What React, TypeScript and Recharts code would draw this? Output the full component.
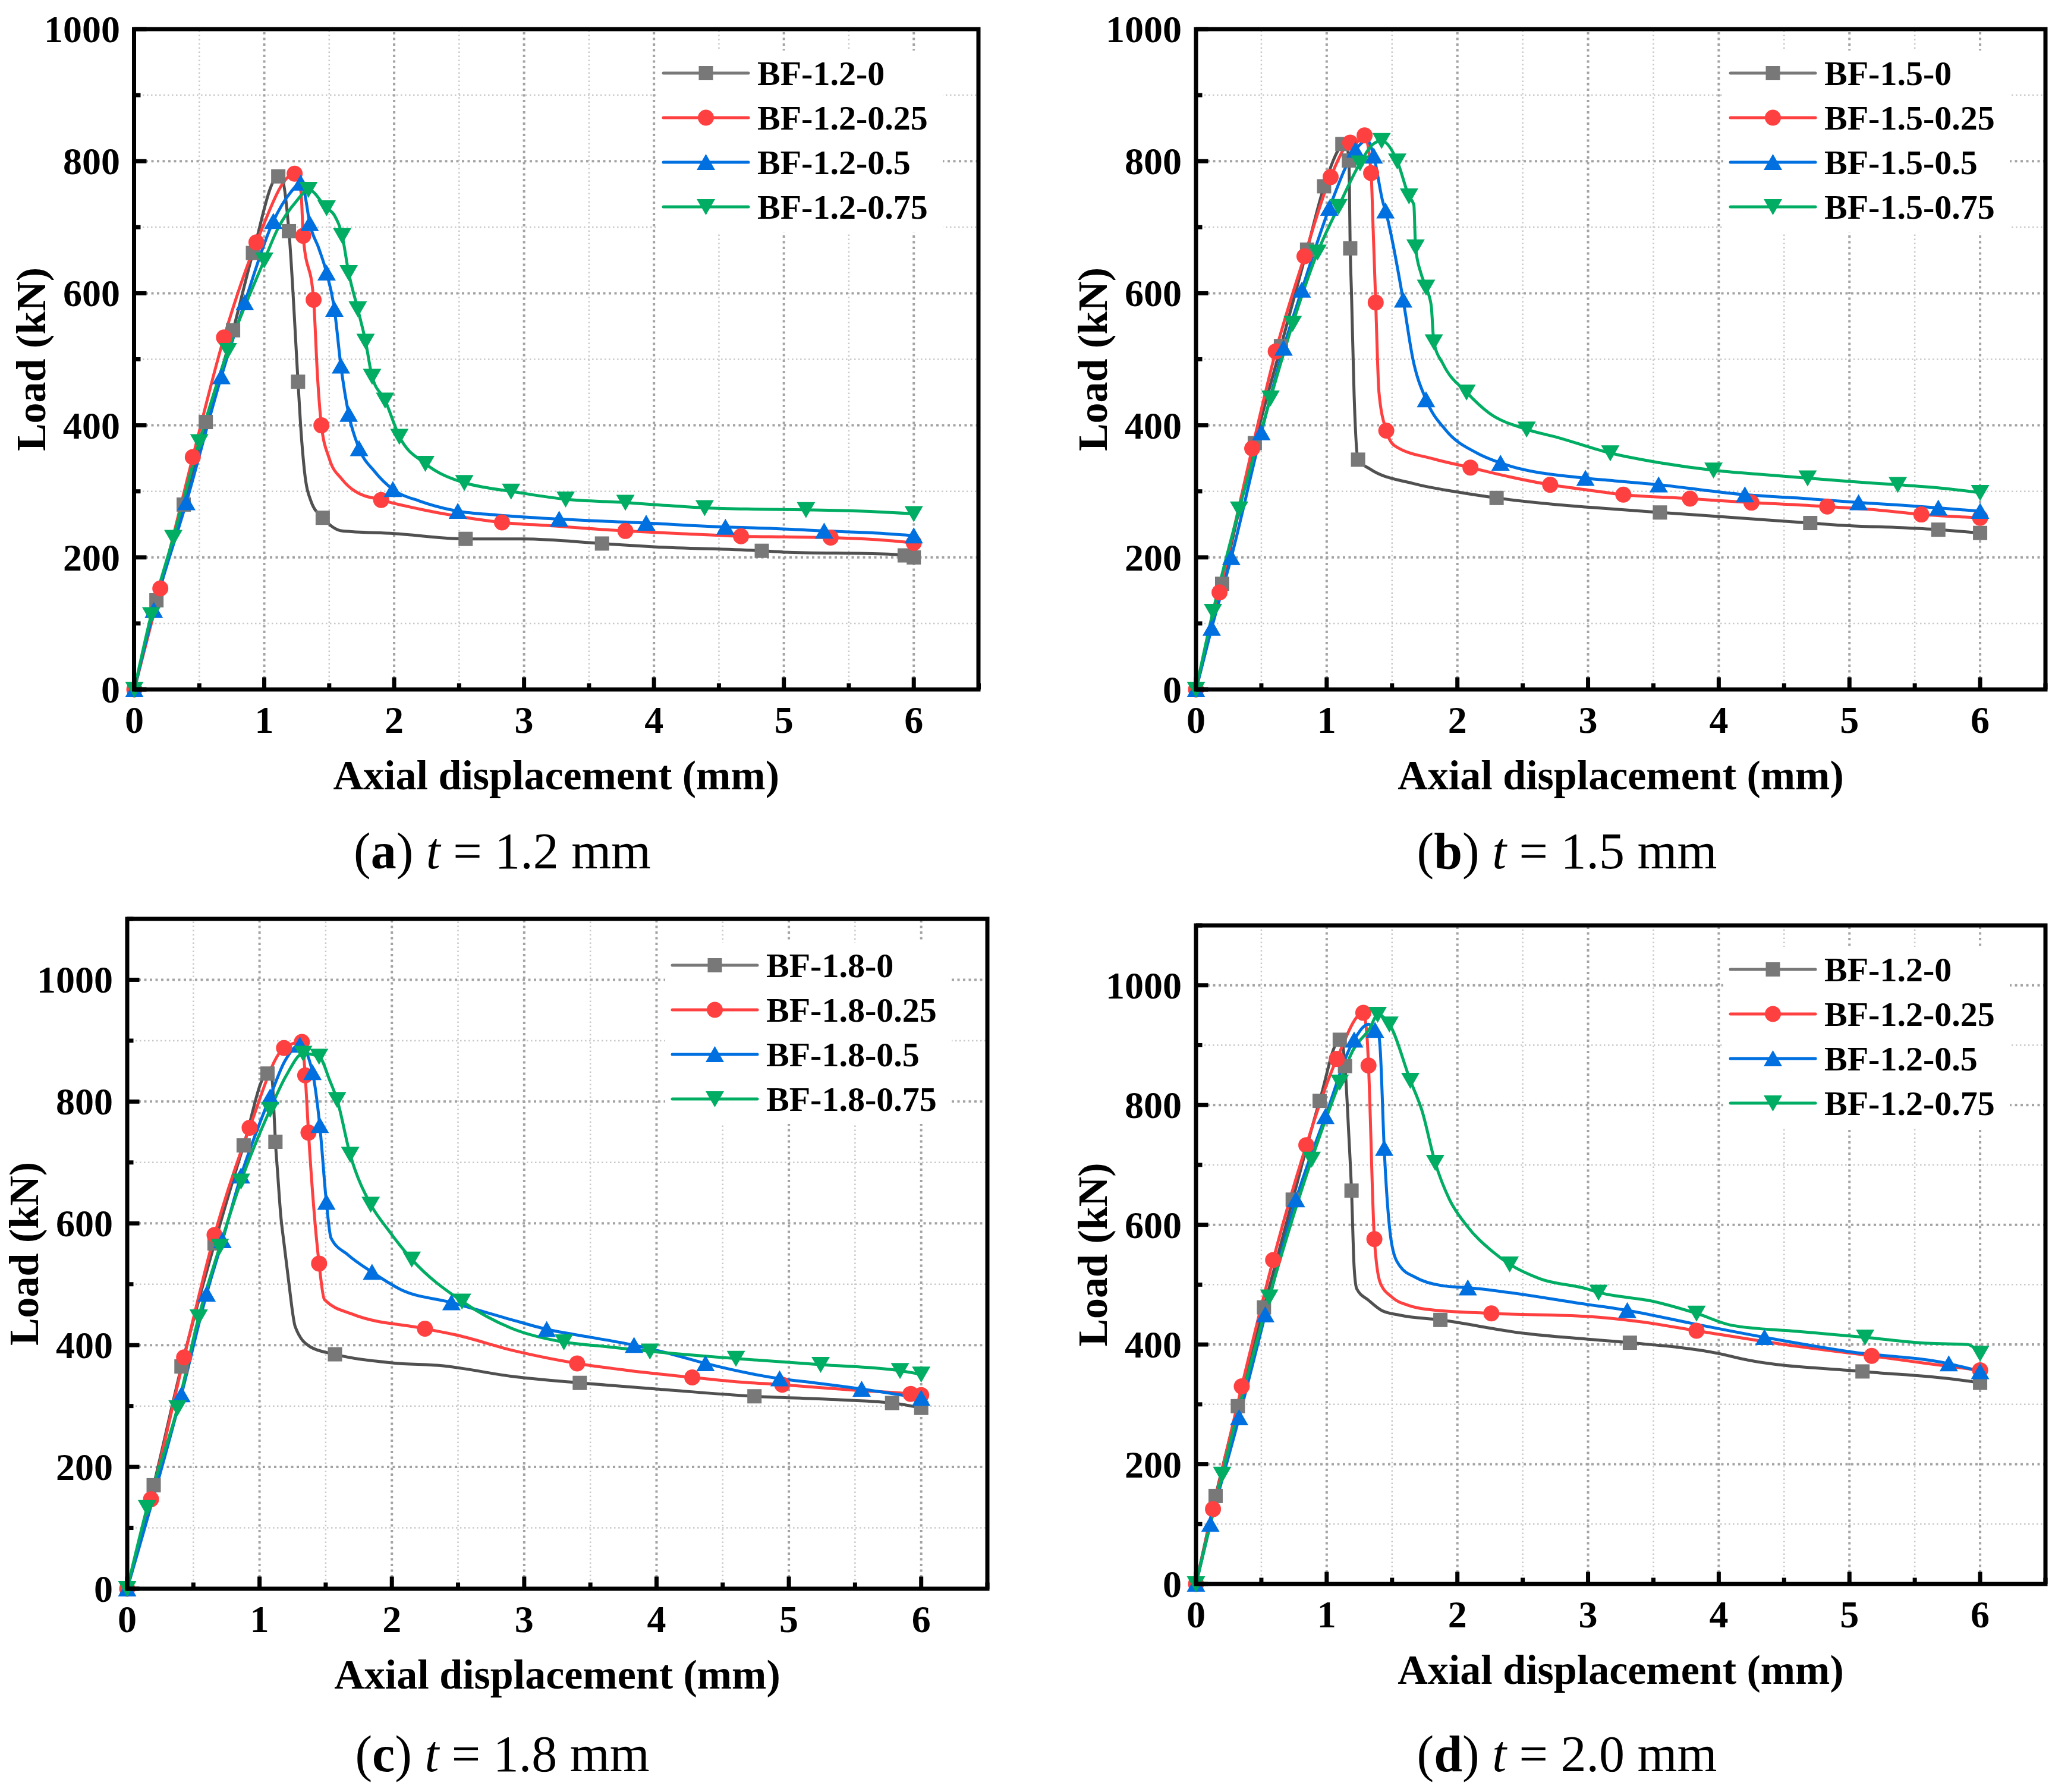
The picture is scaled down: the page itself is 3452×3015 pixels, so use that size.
import React from 'react';
import { LineChart, Line, XAxis, YAxis, ReferenceLine } from 'recharts';

const FONT = "'Liberation Serif', 'Times New Roman', Times, serif";

type P = [number, number];

// ---------- Panel (a) t = 1.2 mm ----------
const A_GRAY_MARKS: P[] = [[0,0],[0.17,135],[0.38,280],[0.55,405],[0.76,544],[0.913,661],[1.108,777],[1.19,694],[1.26,466],[1.45,260],[2.55,228],[3.6,221],[4.83,210],[5.93,203],[6.0,200]];
const A_GRAY_EXTRA: P[] = [[1.14,772],[1.28,400],[1.31,330],[1.36,285],[1.6,240],[2.0,236],[3.0,228],[4.0,216],[5.0,208],[5.8,205]];
const A_RED_MARKS: P[] = [[0,0],[0.2,153],[0.45,352],[0.69,533],[0.94,677],[1.234,781],[1.30,687],[1.38,590],[1.44,400],[1.9,287],[2.83,253],[3.78,240],[4.67,232],[5.36,230],[6.0,222]];
const A_RED_EXTRA: P[] = [[1.283,753],[1.41,474],[1.5,350],[1.6,318],[1.7,300],[2.2,273],[2.5,262],[3.2,248],[4.2,236],[5.0,231],[5.7,227]];
const A_BLUE_MARKS: P[] = [[0,0],[0.15,120],[0.4,283],[0.67,474],[0.85,586],[1.07,709],[1.28,767],[1.35,706],[1.48,631],[1.54,576],[1.59,490],[1.65,417],[1.73,365],[1.99,303],[2.49,270],[3.27,258],[3.94,252],[4.55,246],[5.31,240],[6.0,233]];
const A_BLUE_EXTRA: P[] = [[1.2,752],[1.31,752],[1.42,668],[1.85,330],[2.2,285],[2.8,264],[4.9,244],[5.7,237]];
const A_GREEN_MARKS: P[] = [[0,0],[0.13,113],[0.3,230],[0.5,375],[0.72,513],[1.0,650],[1.34,757],[1.48,729],[1.6,687],[1.65,631],[1.72,576],[1.78,527],[1.83,474],[1.93,438],[2.04,383],[2.24,342],[2.54,313],[2.9,300],[3.32,288],[3.78,283],[4.39,275],[5.17,272],[6.0,266]];
const A_GREEN_EXTRA: P[] = [[1.1,696],[1.25,740],[1.54,718],[2.7,306],[4.0,280],[4.8,273],[5.6,270]];

// ---------- Panel (b) t = 1.5 mm ----------
const B_GRAY_MARKS: P[] = [[0,0],[0.2,160],[0.45,373],[0.65,520],[0.85,666],[0.98,762],[1.12,826],[1.17,801],[1.18,668],[1.24,348],[2.3,290],[3.55,268],[4.7,252],[5.68,242],[6.0,237]];
const B_GRAY_EXTRA: P[] = [[1.145,830],[1.19,598],[1.21,445],[1.33,334],[1.66,312],[2.0,299],[2.76,280],[3.0,276],[4.0,262],[5.0,248],[5.4,245]];
const B_RED_MARKS: P[] = [[0,0],[0.18,147],[0.43,365],[0.61,512],[0.83,656],[1.03,776],[1.18,828],[1.29,839],[1.34,782],[1.375,586],[1.456,392],[2.10,336],[2.71,310],[3.27,295],[3.78,289],[4.25,283],[4.83,277],[5.55,265],[6.0,260]];
const B_RED_EXTRA: P[] = [[1.24,830],[1.355,700],[1.40,450],[1.52,369],[1.82,349],[2.4,322],[3.0,302],[4.0,286],[5.2,272]];
const B_BLUE_MARKS: P[] = [[0,0],[0.12,93],[0.27,200],[0.50,389],[0.67,517],[0.81,605],[1.02,729],[1.22,817],[1.36,808],[1.45,725],[1.585,590],[1.76,439],[2.33,343],[2.98,320],[3.54,310],[4.2,295],[5.07,283],[5.68,275],[6.0,270]];
const B_BLUE_EXTRA: P[] = [[1.31,832],[1.43,738],[1.66,500],[1.91,393],[2.15,358],[3.2,316],[4.6,290],[5.4,279]];
const B_GREEN_MARKS: P[] = [[0,0],[0.13,118],[0.33,273],[0.57,441],[0.74,554],[0.93,662],[1.09,731],[1.255,797],[1.42,831],[1.54,800],[1.63,747],[1.68,670],[1.76,609],[1.82,526],[2.07,450],[2.53,394],[3.17,358],[3.96,332],[4.68,320],[5.37,310],[6.0,298]];
const B_GREEN_EXTRA: P[] = [[1.35,825],[1.667,734],[1.72,631],[1.80,581],[1.89,493],[2.24,419],[2.76,382],[3.5,345],[4.3,326],[5.0,315],[5.7,305]];

// ---------- Panel (c) t = 1.8 mm ----------
const C_GRAY_MARKS: P[] = [[0,0],[0.2,170],[0.41,365],[0.66,567],[0.88,728],[1.06,846],[1.12,734],[1.57,385],[3.42,338],[4.74,316],[5.78,305],[6.0,297]];
const C_GRAY_EXTRA: P[] = [[1.095,835],[1.112,770],[1.136,685],[1.16,614],[1.185,567],[1.22,505],[1.27,430],[1.385,397],[2.0,371],[2.39,366],[2.9,349],[4.0,328],[5.3,311]];
const C_RED_MARKS: P[] = [[0,0],[0.18,147],[0.43,380],[0.66,581],[0.925,757],[1.185,888],[1.32,898],[1.345,843],[1.37,749],[1.45,534],[2.25,427],[3.4,370],[4.27,347],[4.95,335],[5.92,320],[6.0,318]];
const C_RED_EXTRA: P[] = [[1.49,475],[1.70,451],[2.5,416],[2.9,392],[3.8,358],[4.6,340],[5.5,326]];
const C_BLUE_MARKS: P[] = [[0,0],[0.41,319],[0.60,484],[0.72,572],[0.86,678],[1.08,808],[1.305,893],[1.40,848],[1.455,761],[1.505,635],[1.85,520],[2.45,470],[3.17,426],[3.83,400],[4.37,370],[4.93,345],[5.55,328],[6.0,313]];
const C_BLUE_EXTRA: P[] = [[1.19,866],[1.54,576],[1.67,548],[2.07,491],[2.9,442],[3.5,413],[4.1,386],[5.2,338]];
const C_GREEN_MARKS: P[] = [[0,0],[0.15,133],[0.38,297],[0.54,446],[0.70,562],[0.86,669],[1.08,787],[1.33,879],[1.45,874],[1.586,803],[1.685,713],[1.84,631],[2.15,541],[2.53,472],[3.3,405],[3.95,390],[4.6,378],[5.24,368],[5.84,358],[6.0,352]];
const C_GREEN_EXTRA: P[] = [[1.2,842],[1.53,835],[1.97,590],[2.9,428],[3.6,398]];

// ---------- Panel (d) t = 2.0 mm ----------
const D_GRAY_MARKS: P[] = [[0,0],[0.15,147],[0.32,297],[0.52,462],[0.74,642],[0.946,807],[1.10,909],[1.14,865],[1.19,657],[1.87,441],[3.32,403],[5.1,355],[6.0,336]];
const D_GRAY_EXTRA: P[] = [[1.12,903],[1.17,747],[1.21,529],[1.23,493],[1.32,474],[1.42,457],[1.56,449],[2.5,419],[2.99,409],[4.0,385],[4.2,375],[5.8,342]];
const D_RED_MARKS: P[] = [[0,0],[0.13,125],[0.35,330],[0.59,541],[0.844,733],[1.077,877],[1.28,954],[1.32,866],[1.365,576],[2.26,452],[3.83,423],[5.17,381],[6.0,357]];
const D_RED_EXTRA: P[] = [[1.31,910],[1.41,503],[1.50,479],[1.63,465],[1.76,459],[2.99,447],[3.4,438],[4.5,400],[5.6,368]];
const D_BLUE_MARKS: P[] = [[0,0],[0.11,100],[0.33,278],[0.53,450],[0.765,642],[0.99,781],[1.21,909],[1.37,925],[1.44,728],[2.08,495],[3.3,457],[4.35,412],[5.76,368],[6.0,355]];
const D_BLUE_EXTRA: P[] = [[1.32,935],[1.40,915],[1.41,891],[1.50,565],[1.56,531],[1.68,512],[1.89,498],[2.99,467],[3.8,435],[5.0,388]];
const D_GREEN_MARKS: P[] = [[0,0],[0.2,183],[0.56,479],[0.885,709],[1.10,838],[1.39,951],[1.48,935],[1.64,841],[1.83,704],[2.40,534],[3.08,487],[3.83,452],[5.12,412],[6.0,385]];
const D_GREEN_EXTRA: P[] = [[1.2,891],[1.33,928],[1.73,790],[1.94,642],[2.07,599],[2.27,555],[2.63,510],[2.99,493],[3.5,472],[4.1,432],[4.6,422],[5.6,402],[5.9,400]];

// ---------- Axes, legends, captions ----------
const X_TICKS = [0, 0.5, 1, 1.5, 2, 2.5, 3, 3.5, 4, 4.5, 5, 5.5, 6, 6.5];
const X_LABELS = [0, 1, 2, 3, 4, 5, 6];
const X_MAJOR_GRID = [1, 2, 3, 4, 5, 6];
const X_MINOR_GRID = [0.5, 1.5, 2.5, 3.5, 4.5, 5.5];
const Y_TICKS_1000 = [0, 100, 200, 300, 400, 500, 600, 700, 800, 900, 1000];
const Y_TICKS_1100 = [0, 100, 200, 300, 400, 500, 600, 700, 800, 900, 1000, 1100];
const Y_LABELS = [0, 200, 400, 600, 800, 1000];
const Y_MAJOR_GRID = [200, 400, 600, 800, 1000];
const Y_MINOR_GRID = [100, 300, 500, 700, 900];

const LEGEND_A = ['BF-1.2-0', 'BF-1.2-0.25', 'BF-1.2-0.5', 'BF-1.2-0.75'];
const LEGEND_B = ['BF-1.5-0', 'BF-1.5-0.25', 'BF-1.5-0.5', 'BF-1.5-0.75'];
const LEGEND_C = ['BF-1.8-0', 'BF-1.8-0.25', 'BF-1.8-0.5', 'BF-1.8-0.75'];
const LEGEND_D = ['BF-1.2-0', 'BF-1.2-0.25', 'BF-1.2-0.5', 'BF-1.2-0.75'];

const CAPTION_LETTERS = ['a', 'b', 'c', 'd'];
const CAPTION_T = ['1.2', '1.5', '1.8', '2.0'];

const X_TITLE = 'Axial displacement (mm)';
const Y_TITLE = 'Load (kN)';

// ---------- Styles ----------
type Shape = 'square' | 'circle' | 'up' | 'down';
const SERIES_STYLE: { line: string; legendLine: string; fill: string; shape: Shape }[] = [
  { line: '#505050', legendLine: '#787878', fill: '#787878', shape: 'square' },
  { line: '#ff4040', legendLine: '#ff4040', fill: '#ff4040', shape: 'circle' },
  { line: '#0070e0', legendLine: '#0070e0', fill: '#0070e0', shape: 'up' },
  { line: '#00ad63', legendLine: '#00ad63', fill: '#00ad63', shape: 'down' },
];

function Marker({ cx, cy, shape, fill }: { cx: number; cy: number; shape: Shape; fill: string }) {
  if (cx == null || cy == null || isNaN(cx) || isNaN(cy)) return null;
  if (shape === 'square') return <rect x={cx - 12} y={cy - 12} width={24} height={24} fill={fill} />;
  if (shape === 'circle') return <circle cx={cx} cy={cy} r={13.5} fill={fill} />;
  if (shape === 'up')
    return <polygon points={`${cx},${cy - 14} ${cx - 15.5},${cy + 13} ${cx + 15.5},${cy + 13}`} fill={fill} />;
  return <polygon points={`${cx},${cy + 14} ${cx - 15.5},${cy - 13} ${cx + 15.5},${cy - 13}`} fill={fill} />;
}

const toCurve = (marks: P[], extra: P[]) =>
  [...marks, ...extra].sort((a, b) => a[0] - b[0]).map(([x, y]) => ({ x, y }));
const toMarks = (marks: P[]) => marks.map(([x, y]) => ({ x, y }));

type Box = { L: number; T: number; R: number; B: number };
type PanelCfg = {
  series: [P[], P[]][];
  legend: string[];
  letter: string;
  t: string;
  yMax: number;
  yTicks: number[];
  box: Box;
  legendDy: number;
  capX: number;
  capY: number;
};

const PANELS: PanelCfg[] = [
  {
    series: [[A_GRAY_MARKS, A_GRAY_EXTRA], [A_RED_MARKS, A_RED_EXTRA], [A_BLUE_MARKS, A_BLUE_EXTRA], [A_GREEN_MARKS, A_GREEN_EXTRA]],
    legend: LEGEND_A, letter: CAPTION_LETTERS[0], t: CAPTION_T[0], yMax: 1000, yTicks: Y_TICKS_1000,
    box: { L: 225.5, T: 49, R: 1646, B: 1160 }, legendDy: 74, capX: 845, capY: 1461,
  },
  {
    series: [[B_GRAY_MARKS, B_GRAY_EXTRA], [B_RED_MARKS, B_RED_EXTRA], [B_BLUE_MARKS, B_BLUE_EXTRA], [B_GREEN_MARKS, B_GREEN_EXTRA]],
    legend: LEGEND_B, letter: CAPTION_LETTERS[1], t: CAPTION_T[1], yMax: 1000, yTicks: Y_TICKS_1000,
    box: { L: 2012, T: 49, R: 3441, B: 1160 }, legendDy: 74, capX: 2636, capY: 1461,
  },
  {
    series: [[C_GRAY_MARKS, C_GRAY_EXTRA], [C_RED_MARKS, C_RED_EXTRA], [C_BLUE_MARKS, C_BLUE_EXTRA], [C_GREEN_MARKS, C_GREEN_EXTRA]],
    legend: LEGEND_C, letter: CAPTION_LETTERS[2], t: CAPTION_T[2], yMax: 1100, yTicks: Y_TICKS_1100,
    box: { L: 214, T: 1546, R: 1661, B: 2673 }, legendDy: 78, capX: 845, capY: 2980,
  },
  {
    series: [[D_GRAY_MARKS, D_GRAY_EXTRA], [D_RED_MARKS, D_RED_EXTRA], [D_BLUE_MARKS, D_BLUE_EXTRA], [D_GREEN_MARKS, D_GREEN_EXTRA]],
    legend: LEGEND_D, letter: CAPTION_LETTERS[3], t: CAPTION_T[3], yMax: 1100, yTicks: Y_TICKS_1100,
    box: { L: 2012, T: 1557, R: 3441, B: 2665 }, legendDy: 74, capX: 2636, capY: 2980,
  },
];

const YW = 200;
const XH = 200;
const MT = 40;
const MR = 40;

function XTick(props: any) {
  const { x, y, payload } = props;
  const v = payload.value as number;
  const major = Number.isInteger(v);
  const label = X_LABELS.includes(v);
  return (
    <g>
      <line x1={x} x2={x} y1={y} y2={y - (major ? 20.5 : 10.5)} stroke="#000" strokeWidth={7} />
      {label && (
        <text x={x} y={y + 73} textAnchor="middle" fontSize={64} fontWeight="bold" fontFamily={FONT} fill="#000">
          {v}
        </text>
      )}
    </g>
  );
}

function YTick(props: any) {
  const { x, y, payload } = props;
  const v = payload.value as number;
  const major = v % 200 === 0;
  const label = Y_LABELS.includes(v);
  return (
    <g>
      <line x1={x} x2={x + (major ? 20.5 : 10.5)} y1={y} y2={y} stroke="#000" strokeWidth={7} />
      {label && (
        <text x={x - 24} y={y + 22} textAnchor="end" fontSize={64} fontWeight="bold" fontFamily={FONT} fill="#000">
          {v}
        </text>
      )}
    </g>
  );
}

function Panel({ cfg }: { cfg: PanelCfg }) {
  const { L, T, R, B } = cfg.box;
  const width = YW + (R - L) + MR;
  const height = MT + (B - T) + XH;
  return (
    <div style={{ position: 'absolute', left: L - YW, top: T - MT, width, height }}>
      <LineChart width={width} height={height} margin={{ top: MT, right: MR, bottom: 0, left: 0 }}>
        <XAxis
          type="number"
          dataKey="x"
          domain={[0, 6.5]}
          ticks={X_TICKS}
          interval={0}
          tickSize={0}
          tickMargin={0}
          tickLine={false}
          axisLine={false}
          height={XH}
          tick={(p: any) => <XTick {...p} />}
        />
        <YAxis
          type="number"
          domain={[0, cfg.yMax]}
          ticks={cfg.yTicks}
          interval={0}
          tickSize={0}
          tickMargin={0}
          tickLine={false}
          axisLine={false}
          width={YW}
          tick={(p: any) => <YTick {...p} />}
        />
        {X_MINOR_GRID.map((v) => (
          <ReferenceLine key={`xm${v}`} x={v} stroke="#c8c8c8" strokeWidth={2.5} strokeDasharray="2.5 4.5" />
        ))}
        {Y_MINOR_GRID.filter((v) => v < cfg.yMax).map((v) => (
          <ReferenceLine key={`ym${v}`} y={v} stroke="#c8c8c8" strokeWidth={2.5} strokeDasharray="2.5 4.5" />
        ))}
        {X_MAJOR_GRID.map((v) => (
          <ReferenceLine key={`xM${v}`} x={v} stroke="#a3a3a3" strokeWidth={4} strokeDasharray="4 5.5" />
        ))}
        {Y_MAJOR_GRID.filter((v) => v < cfg.yMax).map((v) => (
          <ReferenceLine key={`yM${v}`} y={v} stroke="#a3a3a3" strokeWidth={4} strokeDasharray="4 5.5" />
        ))}
        {cfg.series.flatMap(([marks, extra], i) => {
          const st = SERIES_STYLE[i];
          return [
            <Line
              key={`c${i}`}
              data={toCurve(marks, extra)}
              dataKey="y"
              type="monotoneX"
              stroke={st.line}
              strokeWidth={5}
              dot={false}
              activeDot={false}
              isAnimationActive={false}
            />,
            <Line
              key={`m${i}`}
              data={toMarks(marks)}
              dataKey="y"
              type="linear"
              stroke="none"
              strokeWidth={0}
              activeDot={false}
              legendType="none"
              isAnimationActive={false}
              dot={(p: any) => <Marker key={`d${i}-${p.index}`} cx={p.cx} cy={p.cy} shape={st.shape} fill={st.fill} />}
            />,
          ];
        })}
      </LineChart>
    </div>
  );
}

function Overlay() {
  return (
    <svg
      width={3452}
      height={3015}
      style={{ position: 'absolute', left: 0, top: 0, pointerEvents: 'none' }}
      fontFamily={FONT}
    >
      {PANELS.map((cfg, pi) => {
        const { L, T, R, B } = cfg.box;
        const lx = R - 530;
        const ly = T + cfg.legendDy;
        return (
          <g key={pi}>
            <text x={(L + R) / 2} y={B + 168} textAnchor="middle" fontSize={70} fontWeight="bold" fill="#000">
              {X_TITLE}
            </text>
            <text
              transform={`translate(${L - 150},${(T + B) / 2}) rotate(-90)`}
              x={0}
              y={0}
              textAnchor="middle"
              fontSize={70}
              fontWeight="bold"
              fill="#000"
            >
              {Y_TITLE}
            </text>
            <rect x={lx - 12} y={ly - 38} width={482} height={3 * 75 + 80} fill="#fff" />
            {cfg.legend.map((name, i) => {
              const st = SERIES_STYLE[i];
              const y = ly + i * 75;
              return (
                <g key={name + i}>
                  <line x1={lx} x2={lx + 143} y1={y} y2={y} stroke={st.legendLine} strokeWidth={5} strokeLinecap="round" />
                  <Marker cx={lx + 71.5} cy={y} shape={st.shape} fill={st.fill} />
                  <text x={lx + 158} y={y + 20} fontSize={58} fontWeight="bold" fill="#000">
                    {name}
                  </text>
                </g>
              );
            })}
            <rect x={L} y={T} width={R - L} height={B - T} fill="none" stroke="#000" strokeWidth={7} />
            <text x={cfg.capX} y={cfg.capY} textAnchor="middle" fontSize={86} fill="#000" style={{ whiteSpace: 'pre' }}>
              {'('}
              <tspan fontWeight="bold">{cfg.letter}</tspan>
              {') '}
              <tspan fontStyle="italic">t</tspan>
              {` = ${cfg.t} mm`}
            </text>
          </g>
        );
      })}
    </svg>
  );
}

export default function App() {
  return (
    <div style={{ position: 'absolute', left: 0, top: 0, width: 3452, height: 3015, background: '#fff', overflow: 'hidden' }}>
      {PANELS.map((cfg, i) => (
        <Panel key={i} cfg={cfg} />
      ))}
      <Overlay />
    </div>
  );
}
